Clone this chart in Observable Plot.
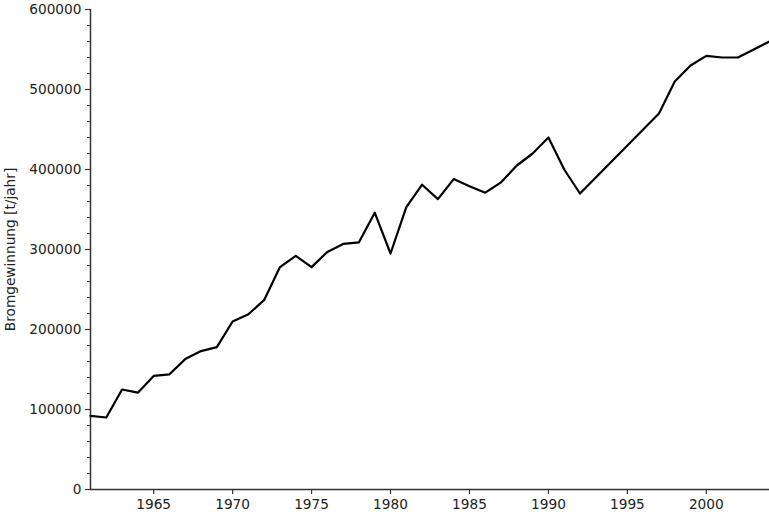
<!DOCTYPE html>
<html>
<head>
<meta charset="utf-8">
<script src="https://cdn.jsdelivr.net/npm/d3@7"></script>
<script src="https://cdn.jsdelivr.net/npm/@observablehq/plot@0.6"></script>
<style>
  html, body { margin: 0; padding: 0; background: #fff; }
  svg { display: block; }
</style>
</head>
<body>
<div id="chart"></div>
<script>
const years = d3.range(1961, 2005);
const production = [
  92000, 90000, 125000, 121000, 142000, 144000, 163000, 173000, 178000, 210000,
  219000, 237000, 278000, 292000, 278000, 297000, 307000, 309000, 346000, 295000,
  353000, 381000, 363000, 388000, 379000, 371000, 384000, 405000, 420000, 440000,
  400000, 370000, 390000, 410000, 430000, 450000, 470000, 510000, 530000, 542000,
  540000, 540000, 550000, 560000
];
const xTicks = [1965, 1970, 1975, 1980, 1985, 1990, 1995, 2000];
const yTicks = [0, 100000, 200000, 300000, 400000, 500000, 600000];
const yMinorTicks = d3.range(0, 600001, 20000).filter(v => v % 100000 !== 0);
const yLabel = "Bromgewinnung [t/jahr]";

const data = years.map((y, i) => ({year: y, value: production[i]}));

const chart = Plot.plot({
  width: 769,
  height: 512,
  marginLeft: 90,
  marginRight: 0,
  marginTop: 9,
  marginBottom: 23,
  style: {fontFamily: "DejaVu Sans", fontSize: "13.7px", color: "#222", background: "#fff"},
  x: {domain: [1961, 2004]},
  y: {domain: [0, 600000]},
  marks: [
    Plot.axisY(yMinorTicks, {tickSize: 3, text: null, stroke: "#333", strokeWidth: 1, label: null}),
    Plot.axisY(yTicks, {tickSize: 5, tickPadding: 4, tickFormat: d3.format("d"), stroke: "#333", strokeWidth: 1.2,
      label: yLabel, labelAnchor: "center", labelArrow: "none", labelOffset: 85, fill: "#222"}),
    Plot.axisX(xTicks, {tickSize: 5, tickPadding: 5, tickFormat: d3.format("d"), stroke: "#333", strokeWidth: 1.2, label: null, fill: "#222"}),
    Plot.ruleX([1961], {stroke: "#333", strokeWidth: 1.5}),
    Plot.ruleY([0], {stroke: "#333", strokeWidth: 1.5}),
    Plot.lineY(data, {x: "year", y: "value", stroke: "#000", strokeWidth: 2.2})
  ]
});
document.getElementById("chart").appendChild(chart);
</script>
</body>
</html>
